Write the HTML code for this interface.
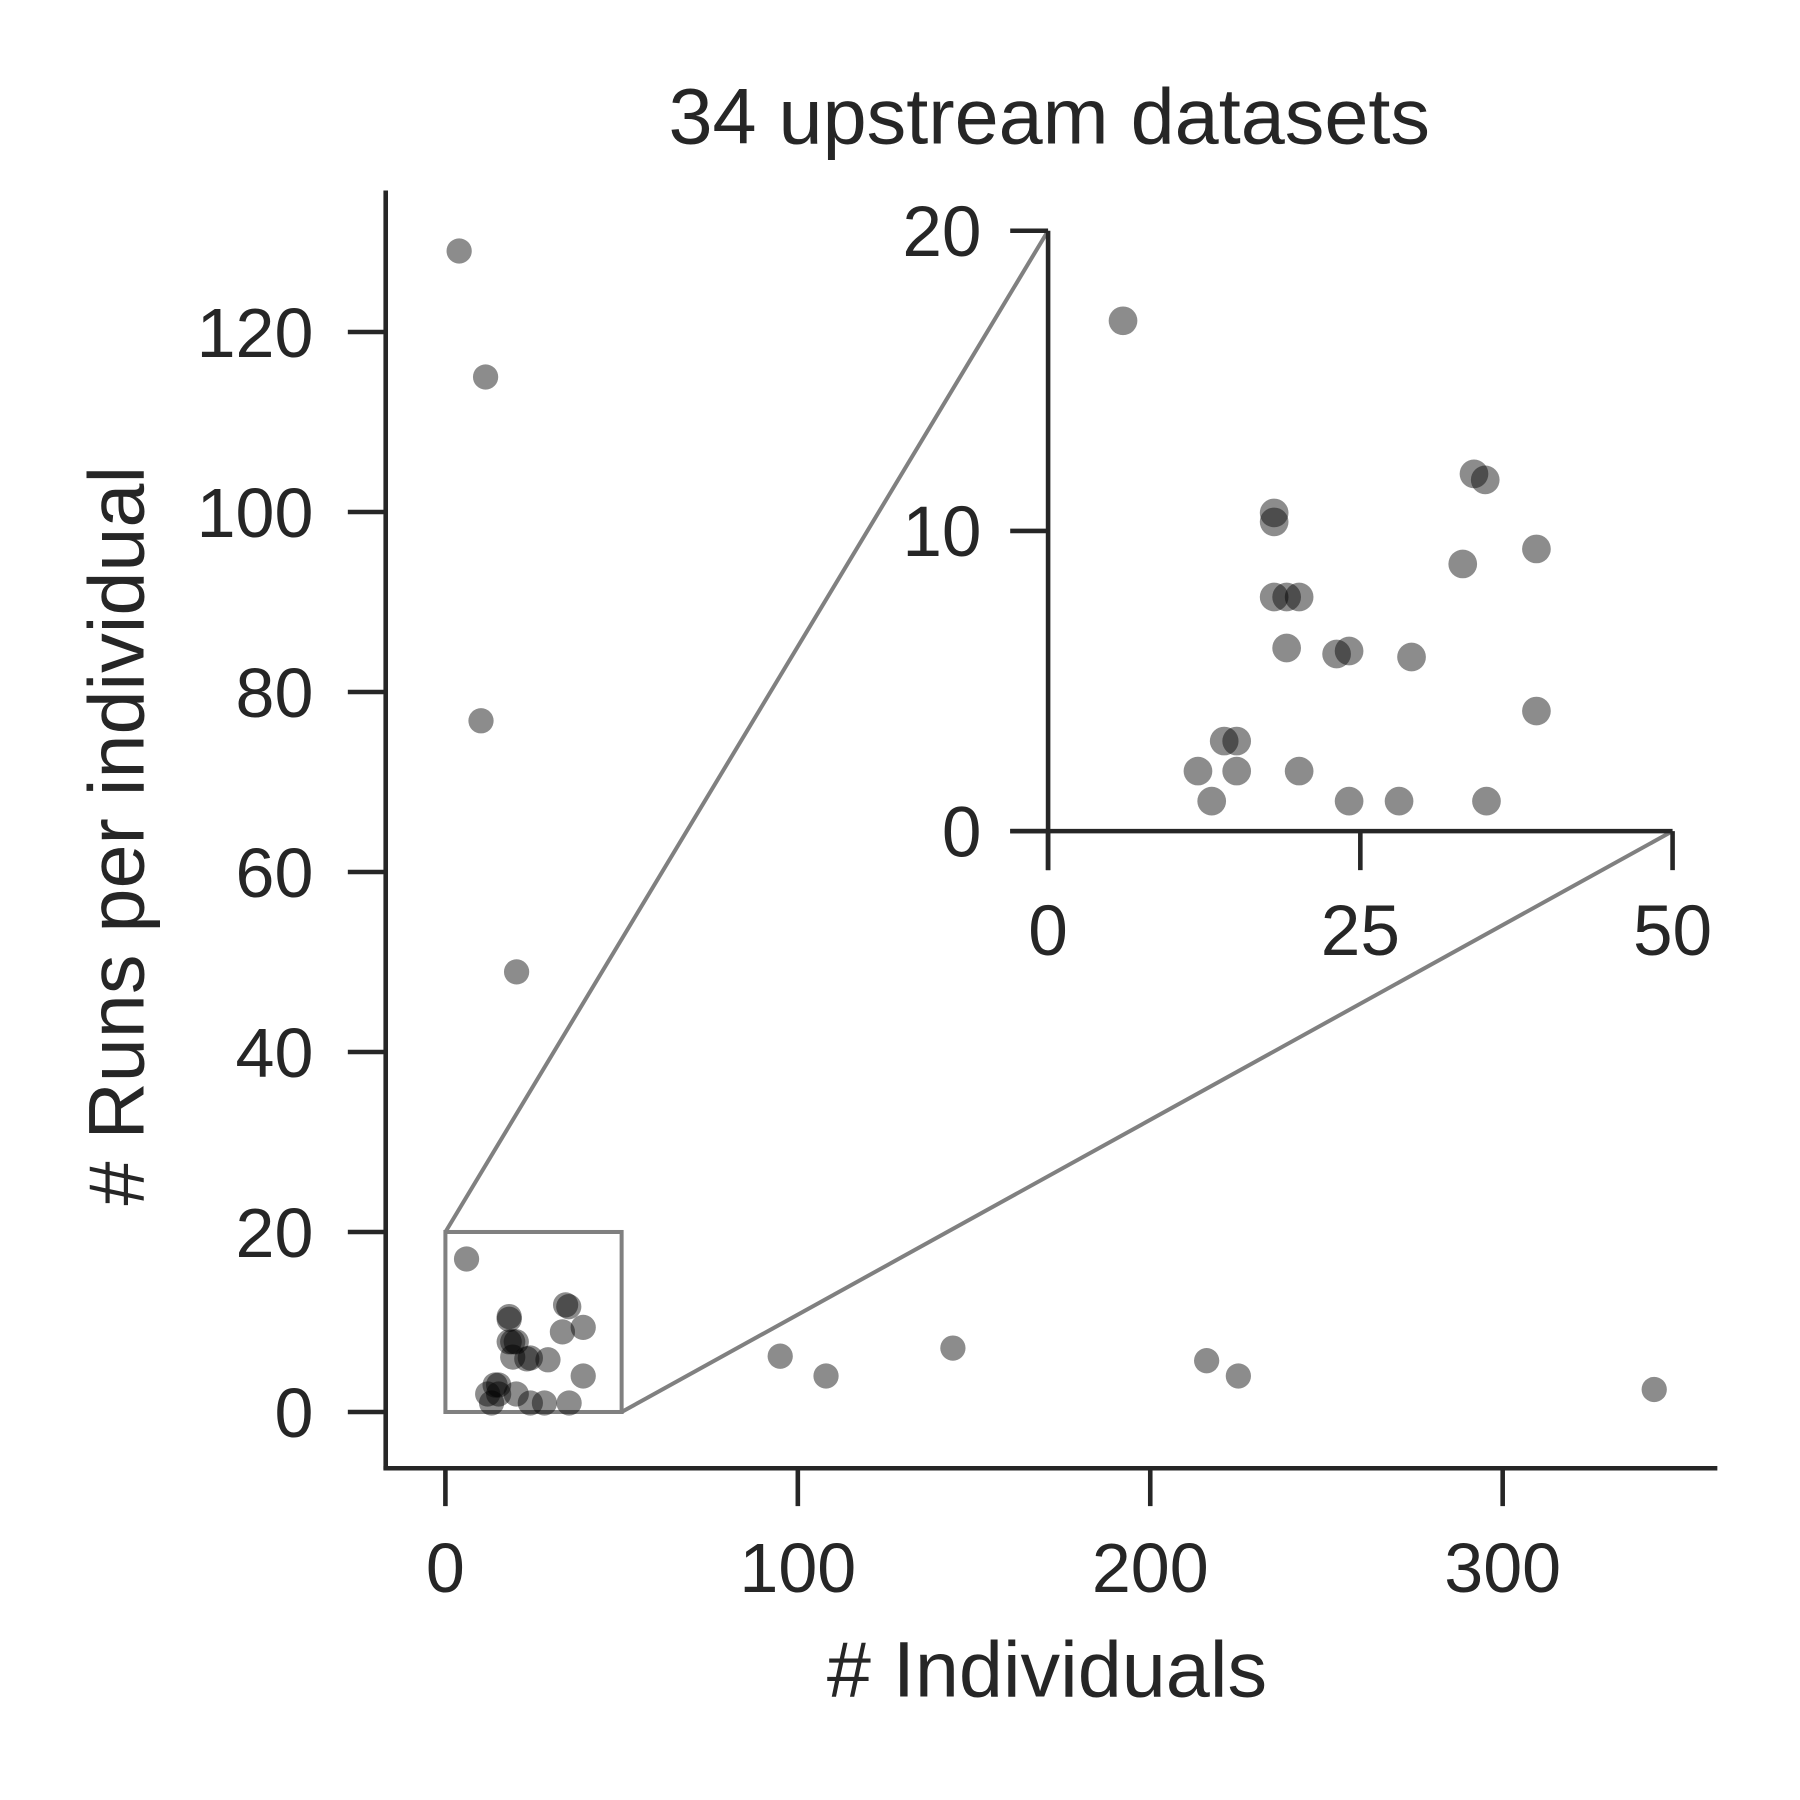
<!DOCTYPE html>
<html><head><meta charset="utf-8"><style>
html,body{margin:0;padding:0;background:#fff}
svg{display:block}
text{font-family:"Liberation Sans",Arial,sans-serif;fill:#262626}
</style></head><body>
<svg id="chart" width="1800" height="1800" viewBox="0 0 1568 1568" xmlns="http://www.w3.org/2000/svg">
<g id="main"></g>
<g id="inset"></g>
</svg>
<script>
const mainX = [3.9,11.4,10.1,20.2,95,108,144,216,225,343];
const mainY = [129,115,76.8,48.9,6.2,4.0,7.1,5.7,4.0,2.5];
const zoomX = [6.0,34.1,35.0,18.1,18.1,33.2,39.1,18.1,19.1,20.1,19.1,23.1,24.1,29.1,39.1,14.1,15.1,12.0,15.1,20.1,13.1,24.1,28.1,35.1];
const zoomY = [17.0,11.9,11.7,10.6,10.3,8.9,9.4,7.8,7.8,7.8,6.1,5.9,6.0,5.8,4.0,3.0,3.0,2.0,2.0,2.0,1.0,1.0,1.0,1.0];
const mainXTicks = [0,100,200,300];
const mainYTicks = [0,20,40,60,80,100,120];
const insetXTicks = [0,25,50];
const insetYTicks = [0,10,20];
const titleText = "34 upstream datasets";

const NS="http://www.w3.org/2000/svg";
function mk(parent,tag,attrs,txt){const e=document.createElementNS(NS,tag);for(const k in attrs)e.setAttribute(k,attrs[k]);if(txt!==undefined)e.textContent=txt;parent.appendChild(e);return e;}
const mx=v=>388+v*3.07, my=v=>1230-v*7.84;
const ix=v=>913+v*10.88, iy=v=>724-v*26.15;
const svg=document.getElementById('chart');
const gm=document.getElementById('main'), gi=document.getElementById('inset');

let t=mk(svg,'text',{x:914,y:125,'font-size':69,'text-anchor':'middle'},titleText);



let s=mk(gm,'line',{x1:336,y1:166,x2:336,y2:1280,stroke:'#262626','stroke-width':4});


s=mk(gm,'line',{x1:334,y1:1279,x2:1496,y2:1279,stroke:'#262626','stroke-width':4});


mainYTicks.forEach(v=>{
  const y=my(v);
  let l=mk(gm,'line',{x1:303,y1:y,x2:336,y2:y,stroke:'#262626','stroke-width':4});
  
  
  let tx=mk(gm,'text',{x:273,y:y+22,'font-size':61,'text-anchor':'end'},String(v));
  
  
});
mainXTicks.forEach(v=>{
  const x=mx(v);
  let l=mk(gm,'line',{x1:x,y1:1279,x2:x,y2:1312,stroke:'#262626','stroke-width':4});
  
  
  let tx=mk(gm,'text',{x:x,y:1387,'font-size':61,'text-anchor':'middle'},String(v));
  
  
});
t=mk(gm,'text',{x:912,y:1478,'font-size':69,'text-anchor':'middle'},'# Individuals');


t=mk(gm,'text',{x:0,y:0,'font-size':69,'text-anchor':'middle',transform:'translate(125,728) rotate(-90)'},'# Runs per individual');



let r=mk(gm,'rect',{x:mx(0),y:my(20),width:mx(50)-mx(0),height:my(0)-my(20),fill:'none',stroke:'#808080','stroke-width':3.5});


let c=mk(gm,'line',{x1:mx(0),y1:my(20),x2:ix(0),y2:iy(20),stroke:'#808080','stroke-width':3.5});


c=mk(gm,'line',{x1:mx(50),y1:my(0),x2:ix(50),y2:iy(0),stroke:'#808080','stroke-width':3.5});



const allX=mainX.concat(zoomX), allY=mainY.concat(zoomY);
allX.forEach((v,i)=>{
  let p=mk(gm,'circle',{cx:mx(v),cy:my(allY[i]),r:11,fill:'#000','fill-opacity':0.45});
  
  
});

s=mk(gi,'line',{x1:913,y1:iy(20),x2:913,y2:758,stroke:'#262626','stroke-width':4});


s=mk(gi,'line',{x1:880,y1:724,x2:1457,y2:724,stroke:'#262626','stroke-width':4});


insetYTicks.forEach(v=>{
  const y=iy(v);
  let l=mk(gi,'line',{x1:880,y1:y,x2:913,y2:y,stroke:'#262626','stroke-width':4});
  
  
  let tx=mk(gi,'text',{x:855,y:y+22,'font-size':62,'text-anchor':'end'},String(v));
  
  
});
insetXTicks.forEach(v=>{
  const x=ix(v);
  let l=mk(gi,'line',{x1:x,y1:724,x2:x,y2:758,stroke:'#262626','stroke-width':4});
  
  
  let tx=mk(gi,'text',{x:x,y:832,'font-size':62,'text-anchor':'middle'},String(v));
  
  
});
zoomX.forEach((v,i)=>{
  let p=mk(gi,'circle',{cx:ix(v),cy:iy(zoomY[i]),r:12.5,fill:'#000','fill-opacity':0.45});
  
  
});
</script>
</body></html>
